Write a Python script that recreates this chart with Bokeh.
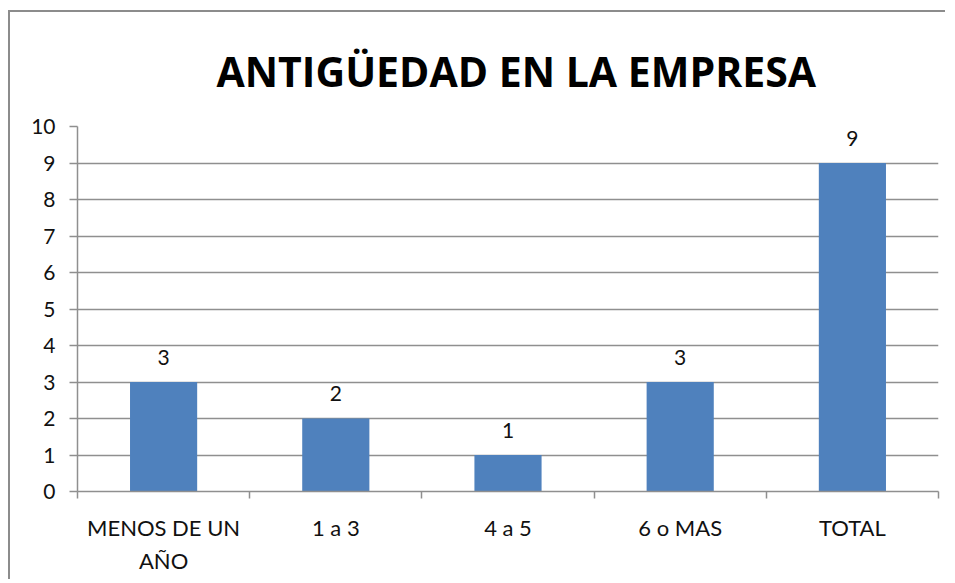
from bokeh.plotting import figure
from bokeh.models import ColumnDataSource, FixedTicker, LabelSet, Range1d
from bokeh.core.properties import value
from bokeh.embed import file_html
from bokeh.resources import INLINE

title_text = "ANTIGÜEDAD EN LA EMPRESA"
categories = ["MENOS DE UN\nAÑO", "1 a 3", "4 a 5", "6 o MAS", "TOTAL"]
values = [3, 2, 1, 3, 9]
y_ticks = [0, 1, 2, 3, 4, 5, 6, 7, 8, 9, 10]

positions = [i + 0.5 for i in range(len(categories))]
boundaries = list(range(len(categories) + 1))

src = ColumnDataSource(dict(x=positions, top=values, lbl=[str(v) for v in values]))

p = figure(width=937, height=569, output_backend="svg", toolbar_location=None,
           x_range=Range1d(0, len(categories)), y_range=Range1d(0, 10),
           min_border_left=67, min_border_right=9, min_border_top=111, min_border_bottom=90,
           title=title_text,
           styles={"border-top": "2px solid #8c8c8c", "border-left": "2px solid #8c8c8c",
                   "margin-top": "10px", "margin-left": "8px"})
p.outline_line_color = None
p.background_fill_color = "white"
p.border_fill_color = "white"

p.title.text_font = "Open Sans"
p.title.text_font_style = "bold"
p.title.text_font_size = "41px"
p.title.text_color = "#000000"
p.title.align = "left"
p.title.standoff = 56
p.title.offset = 139

p.vbar(x="x", top="top", width=0.39, source=src, fill_color="#4F81BD", line_color=None)

labels = LabelSet(x="x", y="top", text="lbl", source=src, y_offset=25,
                  text_align="center", text_baseline="middle",
                  text_font=value("Lato"), text_font_size="21px", text_color="#111111")
p.add_layout(labels)

p.xgrid.grid_line_color = None
p.ygrid.grid_line_color = "#8f8f8f"
p.ygrid.grid_line_width = 1.5
p.ygrid.ticker = FixedTicker(ticks=y_ticks)

ya = p.yaxis[0]
ya.ticker = FixedTicker(ticks=y_ticks)
ya.axis_line_color = "#8f8f8f"
ya.axis_line_width = 1.5
ya.major_tick_line_color = "#8f8f8f"
ya.major_tick_line_width = 1.5
ya.major_tick_out = 8
ya.major_tick_in = 0
ya.minor_tick_line_color = None
ya.major_label_standoff = 14
ya.major_label_text_font = "Lato"
ya.major_label_text_font_size = "21px"
ya.major_label_text_color = "#111111"

xa = p.xaxis[0]
xa.ticker = FixedTicker(ticks=positions, minor_ticks=boundaries)
xa.major_label_overrides = {pos: cat for pos, cat in zip(positions, categories)}
xa.axis_line_color = "#8f8f8f"
xa.axis_line_width = 1.5
xa.major_tick_line_color = None
xa.minor_tick_line_color = "#8f8f8f"
xa.minor_tick_line_width = 1.5
xa.minor_tick_out = 7
xa.minor_tick_in = 0
xa.major_label_standoff = 15
xa.major_label_text_font = "Lato"
xa.major_label_text_font_size = "22px"
xa.major_label_text_color = "#111111"
xa.major_label_text_line_height = 1.25

open("out.html", "w").write(file_html(p, INLINE))
